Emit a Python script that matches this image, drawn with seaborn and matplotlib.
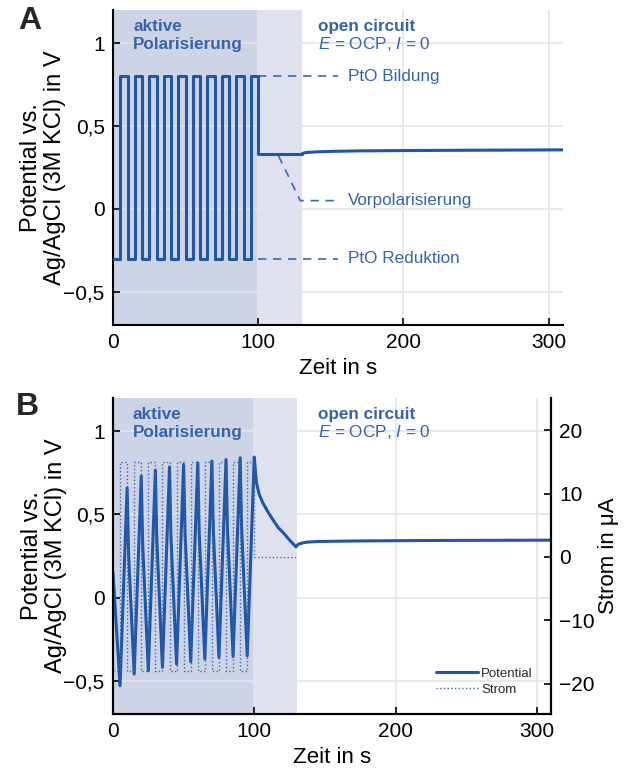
import numpy as np
import pandas as pd
import matplotlib
matplotlib.use('Agg')
import matplotlib.pyplot as plt
import seaborn as sns

# Daten Teil A: Rechteckpulse (Potentialsteuerung) und OCP
zeit_puls = [0, 5, 10, 15, 20, 25, 30, 35, 40, 45, 50, 55, 60, 65, 70, 75, 80, 85, 90, 95, 100, 130]
pot_puls = [-0.3, 0.8, -0.3, 0.8, -0.3, 0.8, -0.3, 0.8, -0.3, 0.8, -0.3, 0.8, -0.3, 0.8, -0.3, 0.8,
            -0.3, 0.8, -0.3, 0.8, 0.331, 0.331]
zeit_ocp_a = [130, 131, 133, 136, 140, 150, 170, 200, 250, 310]
pot_ocp_a = [0.331, 0.336, 0.340, 0.342, 0.344, 0.347, 0.350, 0.352, 0.354, 0.356]

# Daten Teil B: Strompulse (galvanostatisch) und gemessenes Potential
zeit_strom = [0, 5, 10, 15, 20, 25, 30, 35, 40, 45, 50, 55, 60, 65, 70, 75, 80, 85, 90, 95, 100, 130]
strom = [-18, 15, -18, 15, -18, 15, -18, 15, -18, 15, -18, 15, -18, 15, -18, 15, -18, 15, -18, 15, 0, 0]

zeit_pot_b = [0, 5,
              10, 11, 15, 20, 21, 25, 30, 31, 35, 40, 41, 45, 50, 51, 55,
              60, 61, 65, 70, 71, 75, 80, 81, 85, 90, 91, 95,
              100, 101.5, 103.5, 106, 110, 113, 117, 120.5, 125, 129.5,
              131, 134, 137, 145, 170, 220, 310]
pot_b = [0.15, -0.53,
         0.66, 0.27, -0.46, 0.73, 0.32, -0.44, 0.765, 0.35, -0.42, 0.785, 0.37, -0.40,
         0.80, 0.385, -0.385, 0.81, 0.395, -0.37, 0.82, 0.405, -0.36, 0.83, 0.415, -0.355,
         0.84, 0.42, -0.35,
         0.845, 0.69, 0.62, 0.57, 0.51, 0.47, 0.42, 0.39, 0.345, 0.305,
         0.32, 0.328, 0.333, 0.337, 0.340, 0.343, 0.345]

xticks = [0, 100, 200, 300]
yticks = [-0.5, 0, 0.5, 1]
ytick_labels = ['\u22120,5', '0', '0,5', '1']
yticks_strom = [-20, -10, 0, 10, 20]
ytick_strom_labels = ['\u221220', '\u221210', '0', '10', '20']

blau = '#1f56a6'
blau_text = '#3862ab'
blau_strich = '#3d66ae'
schatten_dunkel = '#cdd4e6'
schatten_hell = '#dfe2ee'

sns.set_theme(style='whitegrid')
plt.rcParams['font.family'] = ['Liberation Sans', 'DejaVu Sans']
plt.rcParams['mathtext.fontset'] = 'custom'
plt.rcParams['mathtext.rm'] = 'Liberation Sans'
plt.rcParams['mathtext.it'] = 'Liberation Sans:italic'

df_puls = pd.DataFrame({'zeit': zeit_puls, 'pot': pot_puls})
df_ocp = pd.DataFrame({'zeit': zeit_ocp_a, 'pot': pot_ocp_a})
df_strom = pd.DataFrame({'zeit': zeit_strom, 'strom': strom})
df_pot_b = pd.DataFrame({'zeit': zeit_pot_b, 'pot': pot_b})

fig = plt.figure(figsize=(6.26, 7.71), dpi=100)
ax1 = fig.add_axes([0.1805, 0.5785, 0.719, 0.4086])
ax2 = fig.add_axes([0.1805, 0.0739, 0.6997, 0.41])


def achse_stylen(ax, rechts=False):
    ax.set_xlim(0, 310)
    ax.set_ylim(-0.7, 1.2)
    ax.set_xticks(xticks)
    ax.set_xticklabels([str(t) for t in xticks])
    ax.set_yticks(yticks)
    ax.set_yticklabels(ytick_labels)
    ax.axvspan(0, 100, color=schatten_dunkel, lw=0, zorder=0.2)
    ax.axvspan(100, 130, color=schatten_hell, lw=0, zorder=0.2)
    ax.grid(True, color='#e2e4ee', lw=1.2)
    for s in ['left', 'bottom']:
        ax.spines[s].set_color('black')
        ax.spines[s].set_linewidth(1.5)
    ax.spines['top'].set_visible(False)
    ax.spines['right'].set_visible(rechts)
    ax.tick_params(direction='in', length=5, width=1.2, color='black', labelsize=15,
                   bottom=True, left=True, pad=6, labelcolor='black')
    ax.text(14, 1.075, 'aktive', fontsize=12.3, fontweight='bold', color=blau_text)
    ax.text(14, 0.965, 'Polarisierung', fontsize=12.3, fontweight='bold', color=blau_text)


def labels_setzen(ax):
    ax.set_xlabel('Zeit in s', fontsize=16, color='black', labelpad=4)
    ax.set_ylabel('Potential vs.\nAg/AgCl (3M KCl) in V', fontsize=17, color='black',
                  linespacing=1.1)
    ax.yaxis.set_label_coords(-0.105, 0.5)


# Panel A
achse_stylen(ax1)
ax1.text(141, 1.075, 'open circuit', fontsize=12.3, fontweight='bold', color=blau_text)
ax1.text(141, 0.965, '$E$ = OCP, $I$ = 0', fontsize=12.3, color=blau_text)
sns.lineplot(data=df_puls, x='zeit', y='pot', ax=ax1, color=blau, lw=2.2,
             drawstyle='steps-post', estimator=None, sort=False, zorder=3)
sns.lineplot(data=df_ocp, x='zeit', y='pot', ax=ax1, color=blau, lw=2.2,
             estimator=None, sort=False, zorder=3)
labels_setzen(ax1)

# Beschriftungen mit gestrichelten Linien
strich = dict(color=blau_strich, lw=1.2, ls=(0, (5, 4)), zorder=2)
ax1.plot([100, 155], [pot_puls[1], pot_puls[1]], **strich)
ax1.plot([100, 155], [pot_puls[0], pot_puls[0]], **strich)
ax1.plot([114, 129, 155], [0.32, 0.05, 0.05], **strich)
ax1.text(162, pot_puls[1], 'PtO Bildung', fontsize=12.3, color=blau_text, va='center')
ax1.text(162, 0.05, 'Vorpolarisierung', fontsize=12.3, color=blau_text, va='center')
ax1.text(162, pot_puls[0], 'PtO Reduktion', fontsize=12.3, color=blau_text, va='center')

# Panel B
achse_stylen(ax2, rechts=True)
ax2.spines['right'].set_color('black')
ax2.spines['right'].set_linewidth(1.5)
ax2.text(145, 1.075, 'open circuit', fontsize=12.3, fontweight='bold', color=blau_text)
ax2.text(145, 0.965, '$E$ = OCP, $I$ = 0', fontsize=12.3, color=blau_text)
sns.lineplot(data=df_pot_b, x='zeit', y='pot', ax=ax2, color=blau, lw=2.2,
             estimator=None, sort=False, zorder=3, label='Potential', legend=False)
labels_setzen(ax2)

ax2r = ax2.twinx()
ax2r.grid(False)
sns.lineplot(data=df_strom, x='zeit', y='strom', ax=ax2r, color=blau_strich, lw=1.0, ls=':',
             drawstyle='steps-post', estimator=None, sort=False, label='Strom', legend=False)
ax2r.set_ylim(-24.8, 25.1)
ax2r.set_yticks(yticks_strom)
ax2r.set_yticklabels(ytick_strom_labels)
ax2r.set_ylabel('Strom in \u03bcA', fontsize=16, color='black', rotation=90, labelpad=2)
for s in ['left', 'bottom', 'right']:
    ax2r.spines[s].set_color('black')
    ax2r.spines[s].set_linewidth(1.5)
ax2r.spines['top'].set_visible(False)
ax2r.tick_params(direction='in', length=5, width=1.2, color='black', labelsize=15,
                 right=True, pad=6, labelcolor='black')

h1, l1 = ax2.get_legend_handles_labels()
h2, l2 = ax2r.get_legend_handles_labels()
ax2r.legend(h1 + h2, l1 + l2, loc='lower right', bbox_to_anchor=(0.985, 0.02), frameon=False,
            fontsize=9.5, handlelength=3.2, handletextpad=0.2, labelspacing=0.3)

fig.text(0.048, 0.973, 'A', fontsize=23, fontweight='bold', ha='center', va='center')
fig.text(0.044, 0.472, 'B', fontsize=23, fontweight='bold', ha='center', va='center')

fig.savefig('out.png', dpi=100)
